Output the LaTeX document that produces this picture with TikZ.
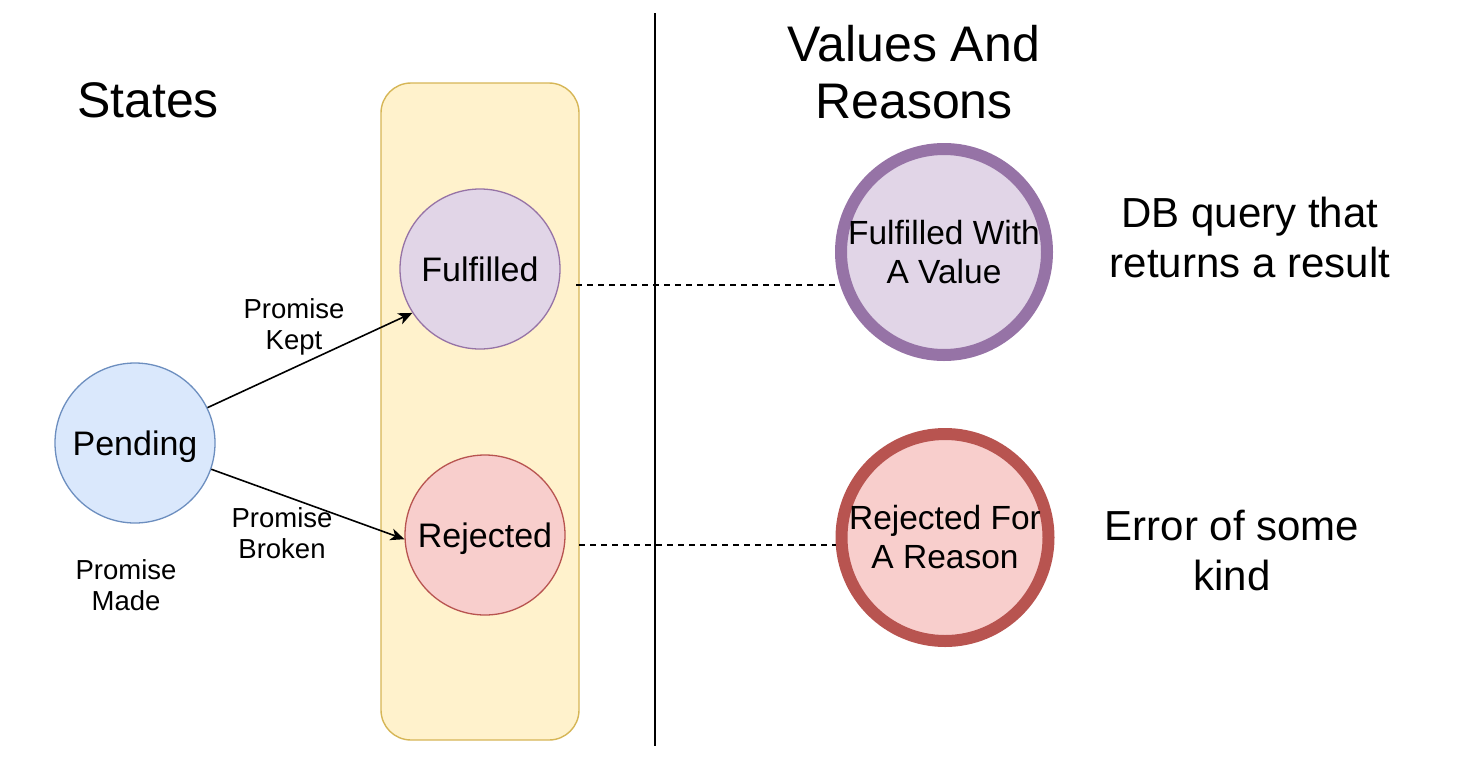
\documentclass[tikz,border=0pt]{standalone}
\usepackage{fontspec}
\setmainfont{Liberation Sans}
\usetikzlibrary{arrows.meta}
\definecolor{blueF}{HTML}{DAE8FC}\definecolor{blueS}{HTML}{6C8EBF}
\definecolor{purF}{HTML}{E1D5E7}\definecolor{purS}{HTML}{9673A6}
\definecolor{redF}{HTML}{F8CECC}\definecolor{redS}{HTML}{B85450}
\definecolor{yelF}{HTML}{FFF2CC}\definecolor{yelS}{HTML}{D6B656}
\tikzset{
  state/.style={circle, minimum size=160pt, inner sep=0pt, line width=1.3pt, text height=24pt, text depth=0pt, font=\fontsize{34}{40}\selectfont},
  bigstate/.style={circle, minimum size=206pt, inner sep=0pt, line width=12pt, align=center, font=\fontsize{33.5}{39}\selectfont},
  lbl/.style={align=center, font=\fontsize{27.5}{31.5}\selectfont},
  title/.style={align=center, font=\fontsize{50}{57}\selectfont},
  note/.style={align=center, font=\fontsize{42}{50}\selectfont},
  arr/.style={line width=1.6pt, -{Stealth[length=14pt,width=12pt,inset=4pt]}},
  dashline/.style={line width=1.4pt, dash pattern=on 6pt off 5pt},
}
\begin{document}
\begin{tikzpicture}[x=1pt,y=-1pt]
\useasboundingbox (0,0) rectangle (1464,782);
\node[draw=yelS, fill=yelF, line width=1.4pt, rounded corners=30pt, minimum width=198pt, minimum height=657pt, inner sep=0pt] (box) at (480,411.5) {};
\coordinate (vtop) at (655,13);
\coordinate (vbot) at (655,746);
\draw[line width=1.6pt] (vtop) -- (vbot);
\node[state, draw=blueS, fill=blueF] (pend) at (135,443) {Pending};
\node[state, draw=purS, fill=purF] (ful) at (480,269) {Fulfilled};
\node[state, draw=redS, fill=redF] (rej) at (485,535) {Rejected};
\node[bigstate, draw=purS, fill=purF] (fv) at (944,252) {Fulfilled With\\A Value};
\node[bigstate, draw=redS, fill=redF, minimum size=207pt] (rr) at (945,537.5) {Rejected For\\A Reason};
\draw[arr] (pend.26) -- (ful.213);
\draw[arr] (pend.-19) -- (rej.183);
\coordinate (d1) at (576,285);
\coordinate (d2) at (579,545);
\draw[dashline] (d1) -- (d1 -| fv.west);
\draw[dashline] (d2) -- (d2 -| rr.west);
\node[lbl] (kept) at (294,327) {Promise\\Kept};
\node[lbl] (broken) at (282,533) {Promise\\Broken};
\node[lbl] (made) at (126,585) {Promise\\Made};
\node[title] (states) at (148,100) {States};
\node[title] (vr) at (914,72) {Values And\\Reasons};
\node[note] (db) at (1250,237) {DB query that\\returns a result};
\node[note] (err) at (1232,550.5) {Error of some\\kind};
\end{tikzpicture}
\end{document}
